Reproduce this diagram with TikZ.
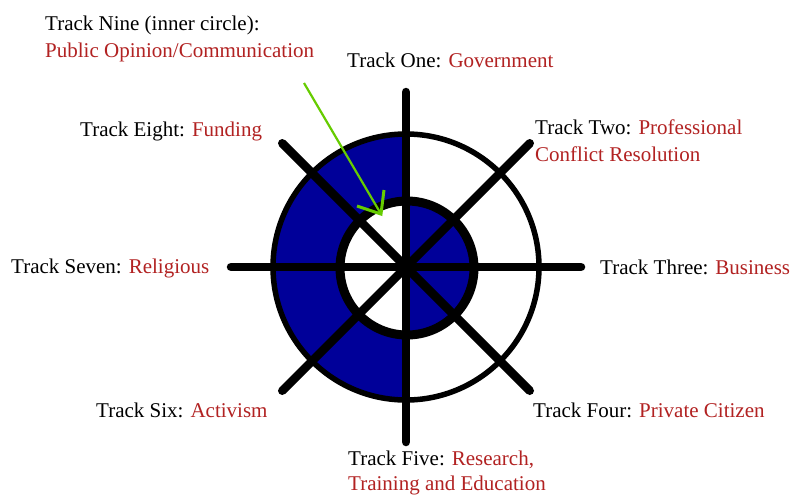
\documentclass[tikz,border=0pt]{standalone}
\usepackage{fontspec}
\setmainfont{Liberation Serif}
\usetikzlibrary{arrows.meta}
\definecolor{trackred}{RGB}{178,34,34}
\definecolor{wheelblue}{RGB}{0,0,153}
\definecolor{arrowgreen}{RGB}{102,204,0}
\begin{document}
\begin{tikzpicture}[x=1pt,y=-1pt,
  lab/.style={anchor=base west,inner sep=0pt,font=\fontsize{21}{25}\selectfont},
  spoke/.style={line width=8.5pt,line cap=round,black},
  ring/.style={line width=5.5pt,black},
  innerring/.style={line width=9pt,black},
  pointer/.style={arrowgreen,line width=2.2pt},
  barb/.style={arrowgreen,line width=3pt,line join=miter}]
\useasboundingbox (0,0) rectangle (791,496);
\fill[white] (0,0) rectangle (791,496);
\coordinate (c) at (406,267);
\coordinate (ci) at (407,268);
% fills
\fill[wheelblue] ([shift={(90:133pt)}]c) arc[start angle=90,end angle=270,radius=133pt] -- cycle;
\fill[white] (ci) circle[radius=67pt];
\fill[wheelblue] ([shift={(-90:67pt)}]ci) arc[start angle=-90,end angle=90,radius=67pt] -- cycle;
% circles
\draw[ring] (c) circle[radius=133pt];
\draw[innerring] (ci) circle[radius=67pt];
% spokes
\foreach \a in {0,45,...,315} \coordinate (s\a) at ([shift={(\a:175pt)}]c);
\draw[spoke] (s0) -- (s180);
\draw[spoke] (s90) -- (s270);
\draw[spoke] (s45) -- (s225);
\draw[spoke] (s135) -- (s315);
% arrow
\coordinate (a1) at (304,83);
\coordinate (a2) at (381,214);
\coordinate (h1) at (357,206);
\coordinate (h2) at (384,190);
\draw[pointer] (a1) -- (a2);
\draw[barb] (h1) -- (a2) -- (h2);
% labels
\node[lab] (t9a) at (45,30) {Track Nine (inner circle):};
\node[lab] (t9b) at (45,57) {\textcolor{trackred}{Public Opinion/Communication}};
\node[lab] (t1) at (347,67) {Track One: \textcolor{trackred}{Government}};
\node[lab] (t2a) at (535,134) {Track Two: \textcolor{trackred}{Professional}};
\node[lab] (t2b) at (535,161) {\textcolor{trackred}{Conflict Resolution}};
\node[lab] (t8) at (80,136) {Track Eight: \textcolor{trackred}{Funding}};
\node[lab] (t7) at (11,273) {Track Seven: \textcolor{trackred}{Religious}};
\node[lab] (t3) at (600,274) {Track Three: \textcolor{trackred}{Business}};
\node[lab] (t6) at (96,417) {Track Six: \textcolor{trackred}{Activism}};
\node[lab] (t4) at (533,417) {Track Four: \textcolor{trackred}{Private Citizen}};
\node[lab] (t5a) at (348,465) {Track Five: \textcolor{trackred}{Research,}};
\node[lab] (t5b) at (348,490) {\textcolor{trackred}{Training and Education}};
\end{tikzpicture}
\end{document}
